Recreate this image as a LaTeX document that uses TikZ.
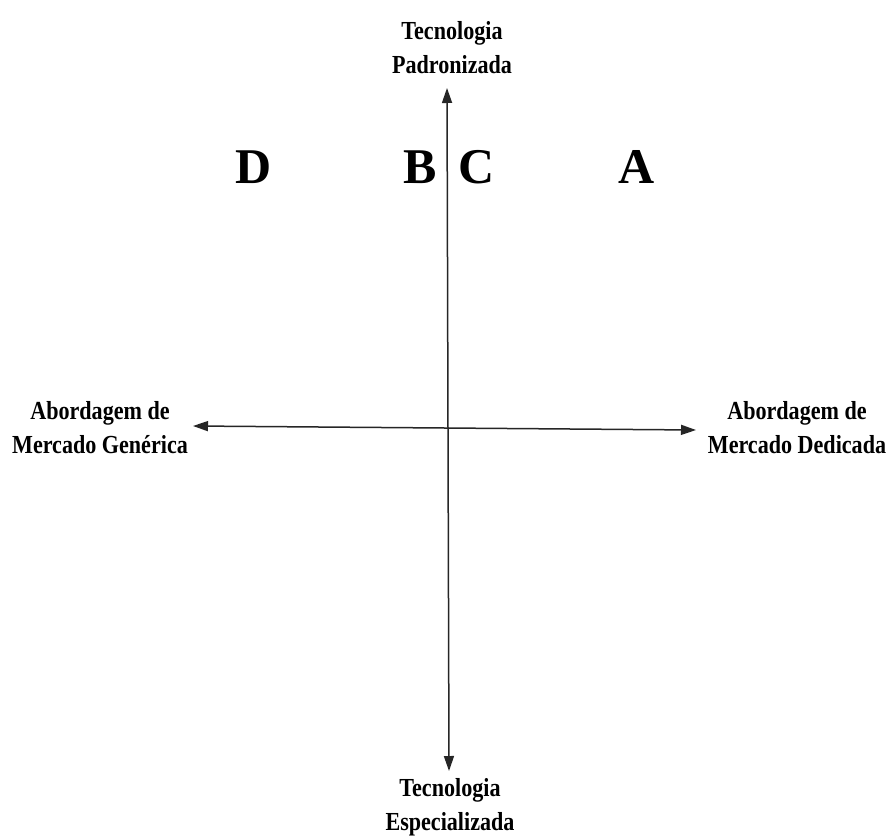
\documentclass[tikz,border=0pt]{standalone}
\usepackage{fontspec}
\setmainfont{Liberation Serif}
\newfontfamily\labfont{Liberation Serif}[FakeStretch=0.85]
\usetikzlibrary{arrows.meta}
\begin{document}
\begin{tikzpicture}[x=1pt,y=-1pt,
  axis/.style={line width=1.5pt,black!85,{Triangle[length=15pt,width=10pt]}-{Triangle[length=15pt,width=10pt]}},
  lab/.style={align=center,inner sep=0pt,font=\labfont\bfseries\fontsize{26}{34}\selectfont},
  letter/.style={anchor=base,inner sep=0pt,font=\bfseries\fontsize{50}{60}\selectfont}]
\useasboundingbox (0,0) rectangle (886,837);
\fill[white] (0,0) rectangle (886,837);
% axis ends
\coordinate (wtip) at (193,426);
\coordinate (etip) at (696,430);
\coordinate (ntip) at (447,88);
\coordinate (stip) at (449,771);
\draw[axis] (wtip) -- (etip);
\draw[axis] (ntip) -- (stip);
% labels
\node[lab] (top) at (452,48) {Tecnologia\\Padronizada};
\node[lab] (bottom) at (450,807) {Tecnologia\\Especializada};
\node[lab] (left) at (100,428) {Abordagem de\\Mercado Genérica};
\node[lab] (right) at (797,428) {Abordagem de\\Mercado Dedicada};
% quadrant letters
\node[letter] (D) at (254,184) {D};
\node[letter] (B) at (420,184) {B};
\node[letter] (C) at (477,184) {C};
\node[letter] (A) at (637,184) {A};
\end{tikzpicture}
\end{document}
